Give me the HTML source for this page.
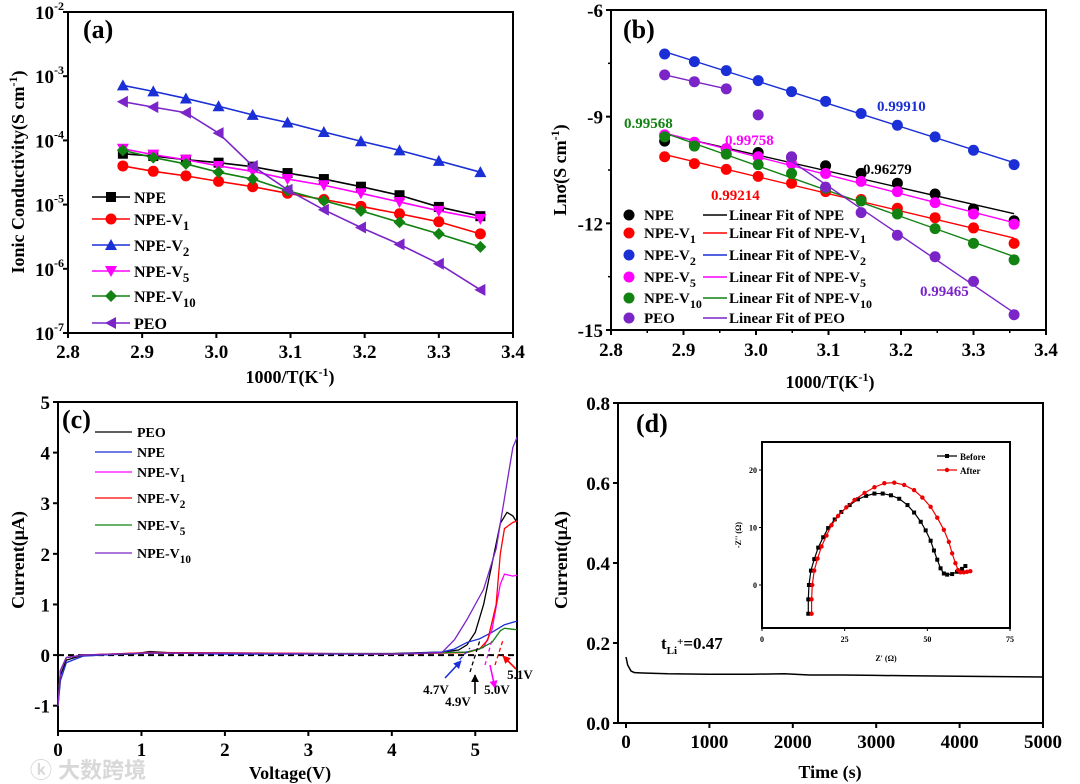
<!DOCTYPE html>
<html><head><meta charset="utf-8">
<style>
body{margin:0;background:#fff;}
svg{display:block;font-family:"Liberation Serif",serif;font-weight:bold;}
</style></head>
<body>
<svg id="fig" width="1080" height="784" viewBox="0 0 1080 784" xmlns="http://www.w3.org/2000/svg">
<defs>
<marker id="ah" viewBox="0 0 10 10" refX="9" refY="5" markerWidth="5" markerHeight="5" orient="auto-start-reverse"><path d="M0 0L10 5L0 10z" fill="context-stroke"/></marker>
</defs>
<text x="30" y="778" font-family="'Liberation Sans','Noto Sans CJK SC',sans-serif" font-size="22" fill="#d8d8d8">ⓚ 大数跨境</text>
</svg>
<script>
// ---------- data ----------
const invT = [2.874, 2.915, 2.959, 3.003, 3.049, 3.096, 3.145, 3.195, 3.247, 3.300, 3.356];
const seriesNames = ['NPE', 'NPE-V1', 'NPE-V2', 'NPE-V5', 'NPE-V10', 'PEO'];
const sigNPE  = [6.2e-5, 5.7e-5, 5.0e-5, 4.5e-5, 3.9e-5, 3.1e-5, 2.5e-5, 1.9e-5, 1.4e-5, 9.2e-6, 6.6e-6];
const sigV1   = [4.0e-5, 3.3e-5, 2.8e-5, 2.3e-5, 1.9e-5, 1.5e-5, 1.2e-5, 9.4e-6, 7.2e-6, 5.4e-6, 3.5e-6];
const sigV2   = [7.2e-4, 5.8e-4, 4.5e-4, 3.4e-4, 2.5e-4, 1.9e-4, 1.35e-4, 9.7e-5, 7.0e-5, 4.8e-5, 3.2e-5];
const sigV5   = [7.4e-5, 6.0e-5, 5.0e-5, 4.0e-5, 3.3e-5, 2.5e-5, 2.0e-5, 1.5e-5, 1.1e-5, 8.0e-6, 6.0e-6];
const sigV10  = [7.0e-5, 5.4e-5, 4.3e-5, 3.2e-5, 2.5e-5, 1.65e-5, 1.15e-5, 8.0e-6, 5.3e-6, 3.5e-6, 2.2e-6];
const sigPEO  = [4.0e-4, 3.3e-4, 2.7e-4, 1.3e-4, 4.0e-5, 1.7e-5, 8.3e-6, 4.4e-6, 2.4e-6, 1.2e-6, 4.7e-7];
const r2Labels = ['0.96279', '0.99214', '0.99910', '0.99758', '0.99568', '0.99465'];

const lsvPEO = [[0,-1],[0.03,-0.4],[0.1,-0.1],[0.3,0],[0.9,0.02],[1.1,0.07],[1.3,0.05],[2,0.03],[4,0.03],[4.6,0.06],[4.8,0.1],[4.9,0.2],[5.0,0.45],[5.1,1.0],[5.2,1.8],[5.3,2.6],[5.38,2.82],[5.45,2.75],[5.5,2.62]];
const lsvNPE = [[0,-1],[0.03,-0.5],[0.1,-0.15],[0.3,-0.02],[1.1,0.05],[2,0.02],[4,0.02],[4.6,0.06],[4.75,0.12],[4.9,0.25],[5.05,0.32],[5.2,0.45],[5.35,0.6],[5.5,0.67]];
const lsvV1  = [[0,-1],[0.03,-0.3],[0.1,-0.05],[0.3,0],[1.1,0.05],[2.3,0.04],[4,0.02],[4.9,0.06],[5.1,0.15],[5.2,0.5],[5.3,1.4],[5.35,1.6],[5.45,1.56],[5.5,1.58]];
const lsvV2  = [[0,-1],[0.03,-0.3],[0.1,-0.05],[0.3,0],[1.1,0.05],[2.3,0.04],[4,0.02],[4.9,0.05],[5.05,0.12],[5.15,0.3],[5.25,1.0],[5.3,2.0],[5.35,2.5],[5.45,2.62],[5.5,2.65]];
const lsvV5  = [[0,-1],[0.03,-0.3],[0.1,-0.05],[0.3,0],[1.1,0.04],[4,0.02],[4.9,0.06],[5.05,0.12],[5.2,0.25],[5.3,0.48],[5.35,0.53],[5.5,0.5]];
const lsvV10 = [[0,-1],[0.03,-0.3],[0.1,-0.05],[0.3,0],[1.1,0.04],[4,0.02],[4.6,0.05],[4.75,0.3],[4.9,0.7],[5.1,1.3],[5.25,2.1],[5.35,3.1],[5.45,4.1],[5.5,4.3]];

const ttTime = [0, 20, 60, 100, 200, 500, 1000, 1500, 1900, 2200, 2600, 3000, 3400, 4000, 4500, 5000];
const ttCurr = [0.165, 0.145, 0.13, 0.126, 0.125, 0.123, 0.122, 0.122, 0.123, 0.12, 0.12, 0.119, 0.118, 0.117, 0.116, 0.115];

const zBeforeRe = [14,14,14.2,14.8,15.8,17,18.5,20,22,24,26.5,29,31.5,34,36.5,39,41.5,44,46,48,49.5,51,52,53,54,55,56,57.5,59,60.5,61.5];
const zBeforeIm = [-5,-2.5,0,2.5,4.5,6.5,8.3,9.9,11.4,12.7,13.9,14.9,15.5,15.9,15.9,15.6,15,13.9,12.6,11,9.5,7.7,6,4.4,2.9,2.0,1.8,1.9,2.3,2.8,3.3];
const zAfterRe  = [15,15,15.2,15.8,16.8,18,19.5,21,23,25.5,28,31,34,37,40,43,46,48.5,51,53,55,56.5,57.5,58.5,59.3,60,61,62,63];
const zAfterIm  = [-5,-2.5,0,2.5,4.6,6.7,8.6,10.4,12,13.5,14.8,16,17.0,17.7,17.8,17.4,16.5,15.2,13.6,11.7,9.6,7.5,5.5,3.8,2.6,2.2,2.2,2.3,2.4];

// ---------- helpers ----------
const svg = document.getElementById('fig');
const NS = 'http://www.w3.org/2000/svg';
function mk(tag, attrs, name, parent) {
  const el = document.createElementNS(NS, tag);
  for (const k in attrs) el.setAttribute(k, attrs[k]);
  
  
  (parent || svg).appendChild(el);
  return el;
}
function txt(x, y, s, size, name, opts) {
  opts = opts || {};
  const t = mk('text', {x: x, y: y, 'font-size': size, fill: opts.fill || '#000', 'text-anchor': opts.anchor || 'start'}, name);
  if (opts.rot) t.setAttribute('transform', 'rotate(-90 ' + x + ' ' + y + ')');
  t.innerHTML = s;
  return t;
}
function lin(d0, d1, r0, r1) { return v => r0 + (v - d0) * (r1 - r0) / (d1 - d0); }
function fmtName(n) { const m = n.match(/^NPE-V(\d+)$/); return m ? 'NPE-V<tspan dy="5" font-size="0.8em">' + m[1] + '</tspan>' : n; }
function marker(shape, x, y, c, name) {
  const s = 5;
  if (shape === 'square') return mk('rect', {x: x - s, y: y - s, width: 2 * s, height: 2 * s, fill: c}, name);
  if (shape === 'circle') return mk('circle', {cx: x, cy: y, r: s + 0.5, fill: c}, name);
  let pts;
  if (shape === 'up') pts = [[x, y - s - 1], [x - s - 1, y + s], [x + s + 1, y + s]];
  if (shape === 'down') pts = [[x, y + s + 1], [x - s - 1, y - s], [x + s + 1, y - s]];
  if (shape === 'diamond') pts = [[x, y - s - 1], [x + s + 1, y], [x, y + s + 1], [x - s - 1, y]];
  if (shape === 'left') pts = [[x - s - 1, y], [x + s, y - s - 1], [x + s, y + s + 1]];
  return mk('polygon', {points: pts.map(p => p.join(',')).join(' '), fill: c}, name);
}
function frame(l, t, r, b, name) { mk('rect', {x: l, y: t, width: r - l, height: b - t, fill: 'none', stroke: '#000', 'stroke-width': 2}, name); }

const colors = ['#000', '#f00', '#1a2fd6', '#f0f', '#128212', '#7b25c8'];
const shapes = ['square', 'circle', 'up', 'down', 'diamond', 'left'];
const sigAll = [sigNPE, sigV1, sigV2, sigV5, sigV10, sigPEO];
const TF = 19, AF = 18;

// ---------- panel (a) ----------
(function () {
  const L = 68, R = 513, T = 12, B = 333;
  const X = lin(2.8, 3.4, L, R), Y = lin(-2, -7, T, B);
  frame(L, T, R, B, 'panel-a-frame');
  [2.8, 2.9, 3.0, 3.1, 3.2, 3.3, 3.4].forEach(v => {
    mk('line', {x1: X(v), y1: B, x2: X(v), y2: B + 5, stroke: '#000', 'stroke-width': 2}, 'a-x-tick');
    txt(X(v), B + 25, v.toFixed(1), TF, 'a-x-tick-label', {anchor: 'middle'});
  });
  [-2, -3, -4, -5, -6, -7].forEach(v => {
    mk('line', {x1: L - 5, y1: Y(v), x2: L, y2: Y(v), stroke: '#000', 'stroke-width': 2}, 'a-y-tick');
    txt(L - 4, Y(v) + 7, '10<tspan dy="-9" font-size="12">' + v + '</tspan>', TF, 'a-y-tick-label', {anchor: 'end'});
  });
  txt(290, 383, '1000/T(K<tspan dy="-7" font-size="12">-1</tspan><tspan dy="7">)</tspan>', AF, 'a-x-axis-title', {anchor: 'middle'});
  txt(24, 172, 'Ionic Conductivity(S cm<tspan dy="-7" font-size="12">-1</tspan><tspan dy="7">)</tspan>', AF, 'a-y-axis-title', {anchor: 'middle', rot: true});
  txt(83, 38, '(a)', 26, 'a-panel-label');
  sigAll.forEach((arr, i) => {
    const d = arr.map((v, j) => (j ? 'L' : 'M') + X(invT[j]) + ' ' + Y(Math.log10(v))).join(' ');
    mk('path', {d: d, fill: 'none', stroke: colors[i], 'stroke-width': 1.6}, 'a-line-' + seriesNames[i]);
    arr.forEach((v, j) => marker(shapes[i], X(invT[j]), Y(Math.log10(v)), colors[i], 'a-point-' + seriesNames[i]));
  });
  const ly = [197, 219, 245, 271, 296, 323];
  seriesNames.forEach((n, i) => {
    mk('line', {x1: 92, y1: ly[i], x2: 130, y2: ly[i], stroke: colors[i], 'stroke-width': 1.6}, 'a-legend-line');
    marker(shapes[i], 111, ly[i], colors[i], 'a-legend-marker');
    txt(134, ly[i] + 6, fmtName(n), 16, 'a-legend-entry');
  });
})();

// ---------- panel (b) ----------
(function () {
  const L = 611, R = 1046, T = 10, B = 330;
  const X = lin(2.8, 3.4, L, R), Y = lin(-6, -15, T, B);
  frame(L, T, R, B, 'panel-b-frame');
  [2.8, 2.9, 3.0, 3.1, 3.2, 3.3, 3.4].forEach(v => {
    mk('line', {x1: X(v), y1: B, x2: X(v), y2: B + 5, stroke: '#000', 'stroke-width': 2}, 'b-x-tick');
    txt(X(v), B + 26, v.toFixed(1), TF, 'b-x-tick-label', {anchor: 'middle'});
  });
  [2.85, 2.95, 3.05, 3.15, 3.25, 3.35].forEach(v => mk('line', {x1: X(v), y1: B, x2: X(v), y2: B + 3, stroke: '#000', 'stroke-width': 1.5}, 'b-x-minor-tick'));
  [-6, -9, -12, -15].forEach(v => {
    mk('line', {x1: L - 5, y1: Y(v), x2: L, y2: Y(v), stroke: '#000', 'stroke-width': 2}, 'b-y-tick');
    txt(L - 8, Y(v) + 7, '' + v, TF, 'b-y-tick-label', {anchor: 'end'});
  });
  [-7.5, -10.5, -13.5].forEach(v => mk('line', {x1: L - 3, y1: Y(v), x2: L, y2: Y(v), stroke: '#000', 'stroke-width': 1.5}, 'b-y-minor-tick'));
  txt(830, 388, '1000/T(K<tspan dy="-7" font-size="12">-1</tspan><tspan dy="7">)</tspan>', AF, 'b-x-axis-title', {anchor: 'middle'});
  txt(566, 170, 'Lnσ(S cm<tspan dy="-7" font-size="12">-1</tspan><tspan dy="7">)</tspan>', AF, 'b-y-axis-title', {anchor: 'middle', rot: true});
  txt(623, 38, '(b)', 26, 'b-panel-label');
  function fit(xs, ys) {
    const n = xs.length, mx = xs.reduce((a, b) => a + b) / n, my = ys.reduce((a, b) => a + b) / n;
    let sxy = 0, sxx = 0;
    xs.forEach((x, k) => { sxy += (x - mx) * (ys[k] - my); sxx += (x - mx) * (x - mx); });
    const m = sxy / sxx; return [m, my - m * mx];
  }
  sigAll.forEach((arr, i) => {
    const ln = arr.map(v => Math.log(v));
    const start = i === 5 ? 4 : 0;
    const xs = invT.slice(start), ys = ln.slice(start);
    const [m, c] = fit(xs, ys);
    const x0 = xs[0], x1 = xs[xs.length - 1];
    mk('line', {x1: X(x0), y1: Y(m * x0 + c), x2: X(x1), y2: Y(m * x1 + c), stroke: colors[i], 'stroke-width': 1.4}, 'b-fit-line-' + seriesNames[i]);
    if (i === 5) {
      const d = ln.slice(0, 3).map((v, j) => (j ? 'L' : 'M') + X(invT[j]) + ' ' + Y(v)).join(' ');
      mk('path', {d: d, fill: 'none', stroke: colors[i], 'stroke-width': 1.4}, 'b-peo-low-segment');
    }
    ln.forEach((v, j) => marker('circle', X(invT[j]), Y(v), colors[i], 'b-point-' + seriesNames[i]));
  });
  const lblPos = [[863, 174], [711, 200], [877, 111], [725, 145], [624, 128], [920, 296]];
  r2Labels.forEach((s, i) => txt(lblPos[i][0], lblPos[i][1], s, 15, 'b-r2-label', {fill: colors[i]}));
  const ly = [215, 233, 255, 277, 298, 318];
  seriesNames.forEach((n, i) => {
    marker('circle', 629, ly[i], colors[i], 'b-legend-marker');
    txt(644, ly[i] + 5, fmtName(n), 15, 'b-legend-entry');
    mk('line', {x1: 703, y1: ly[i], x2: 727, y2: ly[i], stroke: colors[i], 'stroke-width': 1.4}, 'b-legend-fit-line');
    txt(729, ly[i] + 5, 'Linear Fit of ' + fmtName(n), 15, 'b-legend-fit-entry');
  });
})();

// ---------- panel (c) ----------
(function () {
  const L = 58, R = 517, T = 402, B = 731;
  const X = lin(0, 5.5, L, R), Y = lin(5, -1.5, T, B);
  frame(L, T, R, B, 'panel-c-frame');
  [0, 1, 2, 3, 4, 5].forEach(v => {
    mk('line', {x1: X(v), y1: B, x2: X(v), y2: B + 5, stroke: '#000', 'stroke-width': 2}, 'c-x-tick');
    txt(X(v), B + 25, '' + v, TF, 'c-x-tick-label', {anchor: 'middle'});
  });
  [-1, 0, 1, 2, 3, 4, 5].forEach(v => {
    mk('line', {x1: L - 5, y1: Y(v), x2: L, y2: Y(v), stroke: '#000', 'stroke-width': 2}, 'c-y-tick');
    txt(L - 8, Y(v) + 7, '' + v, TF, 'c-y-tick-label', {anchor: 'end'});
  });
  txt(290, 779, 'Voltage(V)', AF, 'c-x-axis-title', {anchor: 'middle'});
  txt(24, 560, 'Current(μA)', AF, 'c-y-axis-title', {anchor: 'middle', rot: true});
  txt(62, 428, '(c)', 26, 'c-panel-label');
  mk('line', {x1: L, y1: Y(0), x2: R, y2: Y(0), stroke: '#000', 'stroke-width': 2, 'stroke-dasharray': '6 4'}, 'c-zero-dashed-line');
  const lsv = [lsvPEO, lsvNPE, lsvV1, lsvV2, lsvV5, lsvV10];
  const cNames = ['PEO', 'NPE', 'NPE-V1', 'NPE-V2', 'NPE-V5', 'NPE-V10'];
  const cCols = ['#000', '#1a2fd6', '#f0f', '#f00', '#128212', '#7b25c8'];
  lsv.forEach((arr, i) => {
    const d = arr.map((p, j) => (j ? 'L' : 'M') + X(p[0]) + ' ' + Y(p[1])).join(' ');
    mk('path', {d: d, fill: 'none', stroke: cCols[i], 'stroke-width': 1.3}, 'c-curve-' + cNames[i]);
  });
  const ly = [432, 452, 472, 498, 525, 553];
  cNames.forEach((n, i) => {
    mk('line', {x1: 95, y1: ly[i], x2: 132, y2: ly[i], stroke: cCols[i], 'stroke-width': 1.3}, 'c-legend-line');
    txt(137, ly[i] + 5, fmtName(n), 14, 'c-legend-entry');
  });
  // onset annotations (pixel-placed arrows)
  const ann = [['#1a2fd6', 445, 678, 461, 661, '4.7V', 436, 694], ['#000', 475, 694, 475, 675, '4.9V', 458, 706], ['#f0f', 490, 665, 495, 688, '5.0V', 497, 694], ['#f00', 516, 669, 503, 656, '5.1V', 520, 679]];
  ann.forEach(a => {
    mk('line', {x1: a[1], y1: a[2], x2: a[3], y2: a[4], stroke: a[0], 'stroke-width': 1.6, 'marker-end': 'url(#ah)'}, 'c-onset-arrow');
    txt(a[6], a[7], a[5], 13, 'c-onset-label', {anchor: 'middle'});
  });
  [['#1a2fd6', 455, 665, 470, 648], ['#000', 470, 672, 480, 640], ['#f0f', 485, 665, 492, 640], ['#f00', 495, 665, 503, 640]].forEach(t => {
    mk('line', {x1: t[1], y1: t[2], x2: t[3], y2: t[4], stroke: t[0], 'stroke-width': 1.3, 'stroke-dasharray': '4 3'}, 'c-onset-tangent');
  });
})();

// ---------- panel (d) ----------
(function () {
  const L = 618, R = 1043, T = 403, B = 723;
  const X = lin(0, 5000, 626, R), Y = lin(0, 0.8, B, T);
  frame(L, T, R, B, 'panel-d-frame');
  [0, 1000, 2000, 3000, 4000, 5000].forEach(v => {
    mk('line', {x1: X(v), y1: B, x2: X(v), y2: B + 5, stroke: '#000', 'stroke-width': 2}, 'd-x-tick');
    txt(X(v), B + 25, '' + v, TF, 'd-x-tick-label', {anchor: 'middle'});
  });
  [0, 0.2, 0.4, 0.6, 0.8].forEach(v => {
    mk('line', {x1: L - 5, y1: Y(v), x2: L, y2: Y(v), stroke: '#000', 'stroke-width': 2}, 'd-y-tick');
    txt(L - 8, Y(v) + 7, v.toFixed(1), TF, 'd-y-tick-label', {anchor: 'end'});
  });
  txt(830, 778, 'Time (s)', AF, 'd-x-axis-title', {anchor: 'middle'});
  txt(567, 560, 'Current(μA)', AF, 'd-y-axis-title', {anchor: 'middle', rot: true});
  txt(636, 432, '(d)', 26, 'd-panel-label');
  const d = ttTime.map((t, j) => (j ? 'L' : 'M') + X(t) + ' ' + Y(ttCurr[j])).join(' ');
  mk('path', {d: d, fill: 'none', stroke: '#000', 'stroke-width': 1.5}, 'd-current-trace');
  txt(661, 649, 't<tspan dy="5" font-size="11">Li</tspan><tspan dy="-9" font-size="11">+</tspan><tspan dy="4">=0.47</tspan>', 17, 'd-transference-label');
  // inset
  const iL = 762, iR = 1010, iT = 442, iB = 628;
  const IX = lin(0, 75, iL, iR), IY = lin(0, 20, 585, 470);
  frame(iL, iT, iR, iB, 'inset-frame');
  [0, 25, 50, 75].forEach(v => {
    mk('line', {x1: IX(v), y1: iB, x2: IX(v), y2: iB + 3, stroke: '#000', 'stroke-width': 1}, 'inset-x-tick');
    txt(IX(v), iB + 14, '' + v, 8, 'inset-x-tick-label', {anchor: 'middle'});
  });
  [0, 10, 20].forEach(v => {
    mk('line', {x1: iL - 3, y1: IY(v), x2: iL, y2: IY(v), stroke: '#000', 'stroke-width': 1}, 'inset-y-tick');
    txt(iL - 5, IY(v) + 3, '' + v, 8, 'inset-y-tick-label', {anchor: 'end'});
  });
  txt(886, 661, "Z' (Ω)", 8, 'inset-x-axis-title', {anchor: 'middle'});
  txt(741, 535, "-Z'' (Ω)", 8, 'inset-y-axis-title', {anchor: 'middle', rot: true});
  [[zBeforeRe, zBeforeIm, '#000', 'square', 'before'], [zAfterRe, zAfterIm, '#e00', 'circle', 'after']].forEach(s => {
    const p = s[0].map((x, j) => (j ? 'L' : 'M') + IX(x) + ' ' + IY(s[1][j])).join(' ');
    mk('path', {d: p, fill: 'none', stroke: s[2], 'stroke-width': 1.2}, 'inset-curve-' + s[4]);
    s[0].forEach((x, j) => {
      if (s[3] === 'square') mk('rect', {x: IX(x) - 2, y: IY(s[1][j]) - 2, width: 4, height: 4, fill: s[2]}, 'inset-point-before');
      else mk('circle', {cx: IX(x), cy: IY(s[1][j]), r: 2.2, fill: s[2]}, 'inset-point-after');
    });
  });
  mk('line', {x1: 937, y1: 456, x2: 957, y2: 456, stroke: '#000', 'stroke-width': 1.2}, 'inset-legend-line-before');
  mk('rect', {x: 945, y: 454, width: 4, height: 4, fill: '#000'}, 'inset-legend-marker-before');
  txt(960, 460, 'Before', 9, 'inset-legend-entry-before');
  mk('line', {x1: 937, y1: 470, x2: 957, y2: 470, stroke: '#e00', 'stroke-width': 1.2}, 'inset-legend-line-after');
  mk('circle', {cx: 947, cy: 470, r: 2.2, fill: '#e00'}, 'inset-legend-marker-after');
  txt(960, 474, 'After', 9, 'inset-legend-entry-after');
})();
</script>
</body></html>
